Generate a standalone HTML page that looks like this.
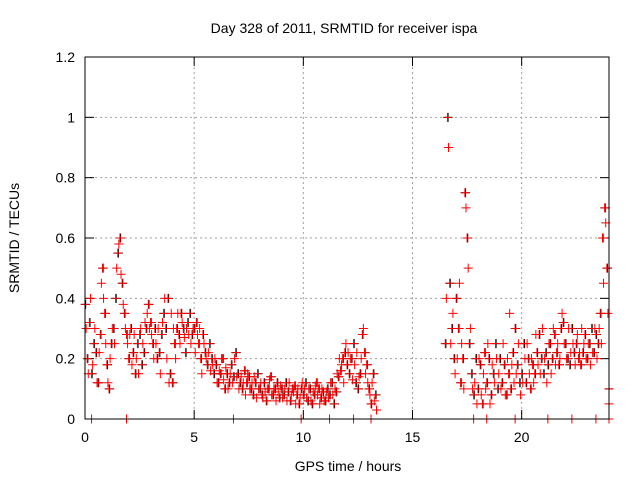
<!DOCTYPE html>
<html><head><meta charset="utf-8"><style>
body{margin:0;background:#fff;}
svg text{font-family:"Liberation Sans",sans-serif;font-size:14px;fill:#000;}
</style></head><body>
<svg width="640" height="480" id="c" xmlns="http://www.w3.org/2000/svg">
<rect width="640" height="480" fill="#fff"/>
<text x="344" y="33" text-anchor="middle">Day 328 of 2011, SRMTID for receiver ispa</text>
<text x="348" y="471" text-anchor="middle">GPS time / hours</text>
<text transform="translate(19,238) rotate(-90)" text-anchor="middle">SRMTID / TECUs</text>
<g id="grid"></g><g id="ticks"></g><g id="marks"></g>
<rect x="85" y="57" width="524" height="362" fill="none" stroke="#000" stroke-width="1"/>
</svg>
<script>
const xTicks=[0,5,10,15,20];
const yTicks=[0,0.2,0.4,0.6,0.8,1,1.2];
const yTickLabels=["0","0.2","0.4","0.6","0.8","1","1.2"];
const segAStart=0, segBStart=16.5, step=0.1;
const segA1=[.38,.2,.32,.15,.25,.22,.12,.28,.5,.35,.18,.1,.25,.3,.4,.55,.6,.45,.35,.28,.2,.3,.22,.15,.25,.28,.18,.22,.3,.38,.32,.25,.3,.2,.22,.28,.35,.3,.4,.15,.12,.25,.3,.28,.35,.3,.22,.32,.35,.28,.3,.32,.25,.2,.28,.22,.18,.25,.2,.15,.18,.12,.15,.2,.1,.15,.12,.18,.14,.22,.15,.12,.1,.16,.12,.14,.1,.08,.12,.15,.1,.08,.12,.06,.1,.14,.08,.1,.12,.07,.1,.08,.12,.09,.06,.1,.11,.08,.05,.1,.08,.12,.06,.1,.05,.08,.12,.1,.07,.09,.06,.1,.08,.12,.05,.09,.14,.16,.2,.22,.18,.15,.2,.25,.12,.1,.15,.28,.22,.18,.1,.05,.15,.08];
const segA2=[.3,.15,.4,.18,.3,.12,.22,.45,.4,.25,.12,.2,.3,.25,.5,.58,.48,.38,.3,.25,.28,.18,.28,.2,.15,.3,.25,.32,.35,.3,.28,.2,.25,.3,.15,.32,.4,.2,.12,.35,.3,.2,.35,.25,.32,.27,.3,.28,.25,.3,.22,.28,.3,.15,.25,.2,.22,.16,.18,.2,.12,.16,.2,.13,.17,.1,.15,.12,.2,.14,.1,.14,.12,.08,.15,.1,.12,.14,.07,.1,.12,.07,.09,.1,.13,.08,.1,.06,.09,.11,.07,.1,.06,.12,.08,.09,.05,.1,.07,.12,.1,.07,.1,.06,.09,.11,.08,.05,.1,.06,.09,.07,.12,.08,.1,.15,.2,.18,.12,.25,.22,.2,.13,.18,.22,.14,.2,.3,.15,.12,.08,.12,.06,.03];
const segB1=[.25,1.0,.45,.3,.2,.4,.3,.12,.2,.75,.6,.25,.15,.08,.2,.1,.18,.05,.22,.12,.2,.08,.15,.25,.1,.2,.12,.18,.08,.15,.1,.22,.3,.18,.12,.15,.25,.12,.2,.1,.18,.15,.22,.28,.2,.15,.22,.18,.25,.2,.28,.22,.18,.3,.32,.25,.2,.18,.3,.22,.25,.2,.18,.22,.28,.2,.25,.3,.22,.28,.25,.35,.6,.7,.5,.1];
const segB2=[.4,.9,.25,.35,.15,.2,.45,.25,.1,.7,.5,.3,.1,.12,.05,.2,.08,.15,.1,.25,.05,.18,.12,.2,.15,.1,.25,.08,.2,.35,.18,.12,.15,.25,.08,.12,.2,.25,.15,.2,.12,.28,.18,.15,.3,.2,.12,.25,.15,.3,.18,.25,.2,.35,.25,.2,.3,.22,.25,.18,.28,.22,.3,.25,.2,.25,.18,.22,.3,.2,.3,.25,.45,.65,.35,.05];
const zeroHours=[0.3,1.9,6.8,9.9,11.2,12.3,13.1,17.8,18.4,19.7,21.2,22.3,23.4,24];
const NS="http://www.w3.org/2000/svg";
const X=h=>85+h*(524/24), Y=v=>419-v*(362/1.2);
const grid=document.getElementById('grid'),ticks=document.getElementById('ticks'),marks=document.getElementById('marks');
function mk(t,a,p){const e=document.createElementNS(NS,t);for(const k in a)e.setAttribute(k,a[k]);p.appendChild(e);return e;}
xTicks.forEach(h=>{
 if(h>0){const g=mk('line',{x1:X(h),x2:X(h),y1:57,y2:419,stroke:'#a0a0a0','stroke-dasharray':'2,3'},grid);
 
 }
 mk('line',{x1:X(h),x2:X(h),y1:419,y2:410,stroke:'#000'},ticks);
 mk('line',{x1:X(h),x2:X(h),y1:57,y2:66,stroke:'#000'},ticks);
 const t=mk('text',{x:X(h),y:442,'text-anchor':'middle'},ticks);t.textContent=h;
 
 
});
yTicks.forEach((v,i)=>{
 if(v>0&&v<1.2){const g=mk('line',{x1:85,x2:609,y1:Y(v),y2:Y(v),stroke:'#a0a0a0','stroke-dasharray':'2,3'},grid);
 
 }
 mk('line',{x1:85,x2:94,y1:Y(v),y2:Y(v),stroke:'#000'},ticks);
 mk('line',{x1:600,x2:609,y1:Y(v),y2:Y(v),stroke:'#000'},ticks);
 const t=mk('text',{x:75,y:Y(v)+5,'text-anchor':'end'},ticks);t.textContent=yTickLabels[i];
 
 
});
function plus(h,v,col){
 const x=X(h),y=Y(v);
 const p=mk('path',{d:`M${x-4.5},${y}h9M${x},${y-4.5}v9`,stroke:col,'stroke-width':1,fill:'none'},marks);
 
 
}
function series(start,arr,off,col){arr.forEach((v,i)=>{const h=Math.min(24,start+i*step+off);plus(h,v,col);});}
series(segAStart,segA1,0.03,'#000');
series(segBStart,segB1,0.03,'#000');
series(segAStart,segA1,0,'#f00');
series(segAStart,segA2,0.05,'#f00');
series(segBStart,segB1,0,'#f00');
series(segBStart,segB2,0.05,'#f00');
zeroHours.forEach(h=>plus(h,0,'#f00'));
</script>
</body></html>
